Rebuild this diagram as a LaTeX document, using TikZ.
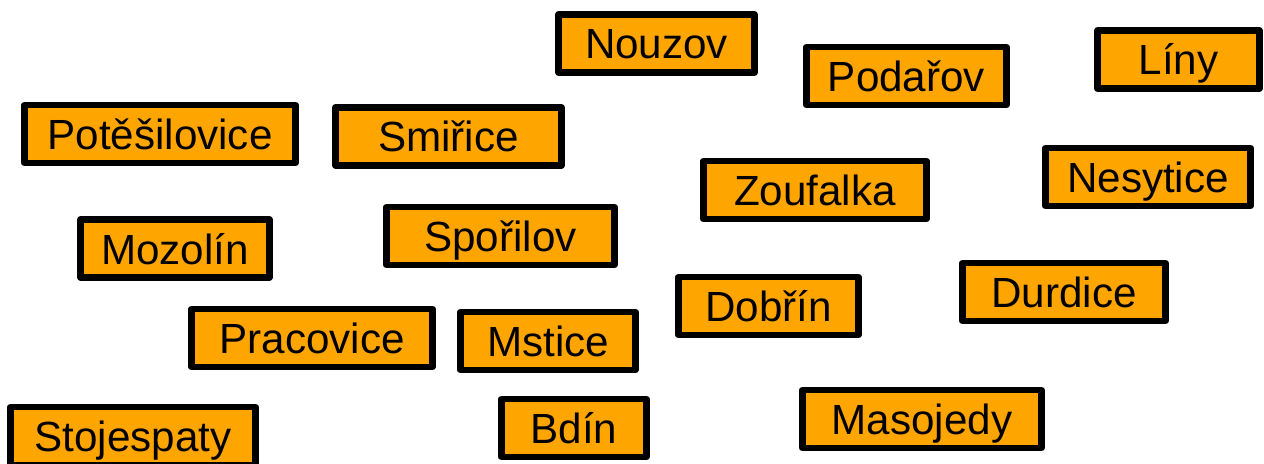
\documentclass[tikz,border=0pt]{standalone}
\usepackage{fontspec}
\setmainfont{Liberation Sans}
\definecolor{townorange}{RGB}{255,165,0}
\begin{document}
\begin{tikzpicture}[x=0.2mm,y=-0.2mm,
    town/.style={draw=black,fill=townorange,line width=1.3mm,line join=round,
        minimum height=11.6mm,inner sep=0pt,text height=6.2mm,text depth=0mm,
        font=\fontsize{24}{28}\selectfont}]
    \useasboundingbox (0,0) rectangle (1264,464);
    % top row
    \node[town,minimum width=39.2mm] (nouzov) at (656.5,43.5) {Nouzov};
    \node[town,minimum width=40.0mm] (podarov) at (906.5,76) {Podařov};
    \node[town,minimum width=32.4mm] (liny) at (1178.5,59.5) {Líny};
    \node[town,minimum width=54.2mm] (potesilovice) at (160,134) {Potěšilovice};
    \node[town,minimum width=45.2mm] (smirice) at (448.5,136.5) {Smiřice};
    \node[town,minimum width=44.6mm] (zoufalka) at (815,190) {Zoufalka};
    \node[town,minimum width=41.0mm] (nesytice) at (1148,177) {Nesytice};
    % middle
    \node[town,minimum width=37.8mm] (mozolin) at (175,248.5) {Mozolín};
    \node[town,minimum width=45.6mm] (sporilov) at (500.5,236) {Spořilov};
    \node[town,minimum width=36.0mm] (dobrin) at (768.5,306) {Dobřín};
    \node[town,minimum width=40.6mm] (durdice) at (1064,292) {Durdice};
    \node[town,minimum width=48.2mm] (pracovice) at (312,338) {Pracovice};
    \node[town,minimum width=35.0mm] (mstice) at (548,341) {Mstice};
    % bottom row
    \node[town,minimum width=49.0mm] (stojespaty) at (133,436) {Stojespaty};
    \node[town,minimum width=29.0mm] (bdin) at (574,428) {Bdín};
    \node[town,minimum width=47.8mm] (masojedy) at (922,419) {Masojedy};
\end{tikzpicture}
\end{document}
